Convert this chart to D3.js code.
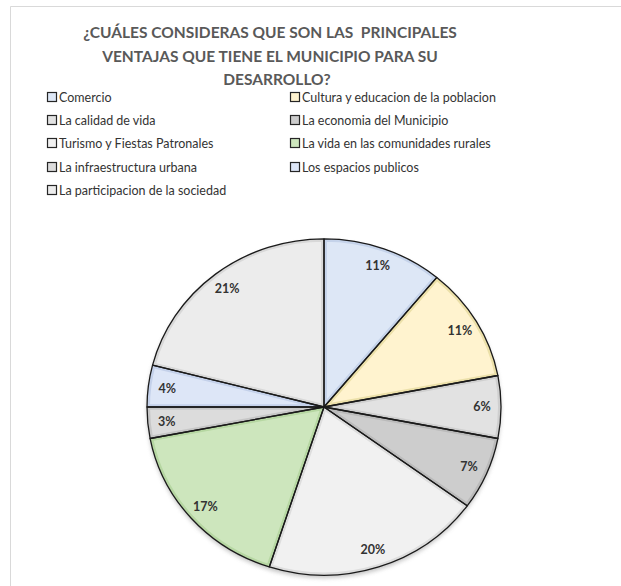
<!DOCTYPE html>
<html>
<head>
<meta charset="utf-8">
<script src="https://cdn.jsdelivr.net/npm/d3@7"></script>
<style>
  html, body { margin: 0; padding: 0; background: #fff; }
  svg { display: block; }
</style>
</head>
<body>
<div id="chart"></div>
<script>
// Data
const TITLE_LINES = [
  '¿CUÁLES CONSIDERAS QUE SON LAS  PRINCIPALES',
  'VENTAJAS QUE TIENE EL MUNICIPIO PARA SU',
  'DESARROLLO?'
];
const CATEGORIES = [
  'Comercio',
  'Cultura y educacion de la poblacion',
  'La calidad de vida',
  'La economia del Municipio',
  'Turismo y Fiestas Patronales',
  'La vida en las comunidades rurales',
  'La infraestructura urbana',
  'Los espacios publicos',
  'La participacion de la sociedad'
];
const VALUES = [11, 11, 6, 7, 20, 17, 3, 4, 21];
const FILLS = ['#dde7f6', '#fff3cf', '#e2e2e2', '#cdcdcd', '#f1f1f1', '#cde6bd', '#dcdcdc', '#dde6f7', '#ececec'];
const RIMS  = ['#c5d3ea', '#ece0a9', '#cfcfcf', '#bababa', '#dddddd', '#b6d7a2', '#c6c6c6', '#c4d1ea', '#d8d8d8'];

const W = 621, H = 586;
const CX = 324, CY = 407, R = 177, SQUASH = 0.95;
const LABEL_R = 158;

const svg = d3.select('#chart').append('svg')
  .attr('width', W)
  .attr('height', H);

const defs = svg.append('defs');
defs.append('filter').attr('id', 'shadow')
  .attr('x', '-10%').attr('y', '-10%').attr('width', '120%').attr('height', '120%')
  .append('feGaussianBlur').attr('stdDeviation', 2);

// chart area frame
svg.append('path')
  .attr('d', `M10.5,${H} L10.5,6.5 L${W},6.5`)
  .attr('fill', 'none')
  .attr('stroke', '#d9d9d9')
  .attr('stroke-width', 1);

// title
svg.append('text')
  .attr('x', 270)
  .attr('y', 38)
  .attr('text-anchor', 'middle')
  .attr('font-family', 'Lato, "Open Sans", sans-serif')
  .attr('font-weight', 700)
  .attr('font-size', '15.5px')
  .attr('fill', '#595959')
  .style('white-space', 'pre')
  .selectAll('tspan')
  .data(TITLE_LINES)
  .join('tspan')
  .attr('x', (d, i) => i === 2 ? 277 : 270)
  .attr('dy', (d, i) => i === 0 ? 0 : 23.5)
  .text(d => d);

// legend
const legendCols = [47, 290];
const legendRows = [97, 120, 143, 167, 190];
const legend = svg.append('g')
  .attr('font-family', 'Lato, "Open Sans", sans-serif')
  .attr('font-size', '12.5px')
  .attr('fill', '#333333');

CATEGORIES.forEach((name, i) => {
  const x = legendCols[i % 2];
  const y = legendRows[Math.floor(i / 2)];
  legend.append('rect')
    .attr('x', x + 0.5).attr('y', y - 4.5)
    .attr('width', 9).attr('height', 9)
    .attr('fill', FILLS[i])
    .attr('stroke', '#262626')
    .attr('stroke-width', 1.2);
  legend.append('text')
    .attr('x', x + 12)
    .attr('y', y)
    .attr('dy', '0.36em')
    .text(name);
});

// pie
const pie = d3.pie().sort(null).value(d => d);
const arcs = pie(VALUES);
const arc = d3.arc().innerRadius(0).outerRadius(R);
const labelArc = d3.arc().innerRadius(LABEL_R).outerRadius(LABEL_R);

const pieG = svg.append('g')
  .attr('transform', `translate(${CX},${CY}) scale(1,${SQUASH})`);

pieG.append('circle')
  .attr('cx', 0).attr('cy', 3)
  .attr('r', R)
  .attr('fill', '#9a9a9a')
  .attr('opacity', 0.6)
  .attr('filter', 'url(#shadow)');

arcs.forEach((a, i) => {
  defs.append('clipPath').attr('id', 'clip' + i)
    .append('path').attr('d', arc(a));
  pieG.append('path')
    .attr('d', arc(a))
    .attr('fill', FILLS[i]);
  pieG.append('path')
    .attr('d', arc(a))
    .attr('fill', 'none')
    .attr('stroke', RIMS[i])
    .attr('stroke-width', 6)
    .attr('clip-path', `url(#clip${i})`);
});

pieG.selectAll('path.outline')
  .data(arcs)
  .join('path')
  .attr('class', 'outline')
  .attr('d', arc)
  .attr('fill', 'none')
  .attr('stroke', '#1a1a1a')
  .attr('stroke-width', 1.3)
  .attr('stroke-linejoin', 'round')
  .attr('vector-effect', 'non-scaling-stroke');

svg.append('g')
  .attr('font-family', 'Lato, "Open Sans", sans-serif')
  .attr('font-weight', 700)
  .attr('font-size', '12.5px')
  .attr('fill', '#333333')
  .attr('text-anchor', 'middle')
  .selectAll('text')
  .data(arcs)
  .join('text')
  .attr('x', d => CX + labelArc.centroid(d)[0])
  .attr('y', d => CY + labelArc.centroid(d)[1] * SQUASH)
  .attr('dy', '0.35em')
  .text(d => d.data + '%');
</script>
</body>
</html>
